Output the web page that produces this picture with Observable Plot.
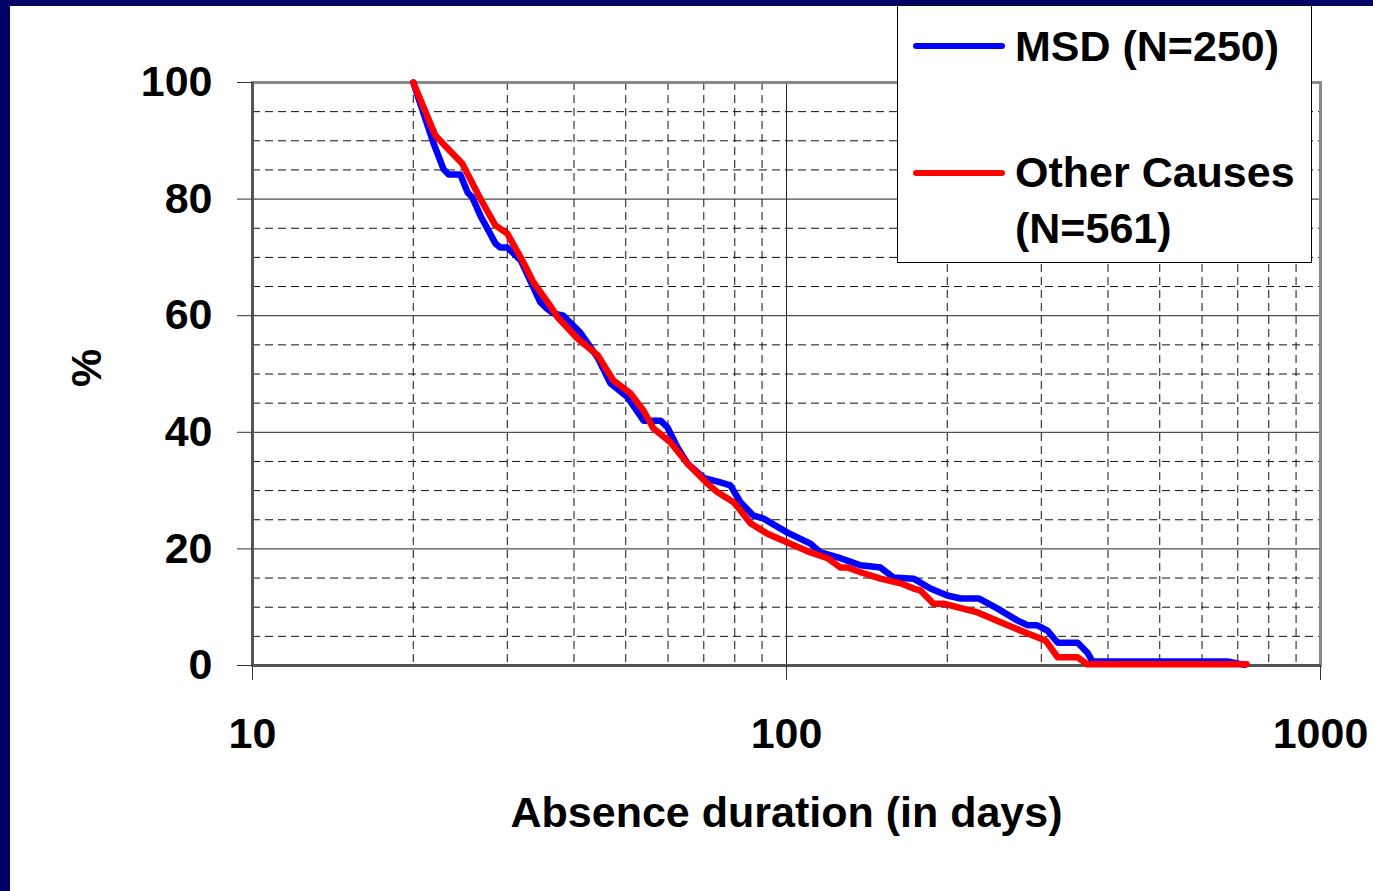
<!DOCTYPE html>
<html>
<head>
<meta charset="utf-8">
<script src="https://cdn.jsdelivr.net/npm/d3@7"></script>
<script src="https://cdn.jsdelivr.net/npm/@observablehq/plot@0.6"></script>
<style>
  html, body { margin: 0; padding: 0; background: #000066; width: 1373px; height: 891px; overflow: hidden; }
  #page { position: absolute; left: 10px; top: 6px; width: 1363px; height: 885px; background: #fff; }
  #legend { position: absolute; left: 887px; top: -1px; width: 413px; height: 256px; background: #fff; border: 1px solid #000;
            font-family: 'Liberation Sans', Arial, sans-serif; font-weight: bold; font-size: 43px; color: #000; }
  .sw { position: absolute; left: 15px; width: 92px; height: 6px; border-radius: 3px; }
  .lt { position: absolute; left: 117px; line-height: 56px; white-space: nowrap; }
</style>
</head>
<body>
<div id="page"></div>
<script>
// ---- data ----
const msdDays = [20, 21.8, 22.8, 23.3, 24.5, 25.3, 25.8, 26.7, 28.5, 29.1, 30.0, 31.8, 34.6, 35.4, 36.6, 38.2, 41.1, 44.3, 46.8, 50.4, 54.0, 58.1, 59.9, 62.5, 65.3, 69.9, 75.2, 78.5, 82.0, 86.7, 90.6, 100.4, 110.9, 115.8, 126.2, 130, 137.6, 150, 158.6, 173, 186, 200, 212, 229, 248, 271, 283, 295, 308, 322, 351, 366, 374, 670, 720];
const msdPct  = [100, 89.7, 85.1, 84.2, 84.2, 81.1, 80.3, 77.2, 72.4, 71.7, 71.7, 69.5, 62.3, 61.4, 60.4, 60.0, 57.1, 52.8, 48.4, 46.0, 42.0, 42.0, 40.8, 37.4, 34.6, 32.2, 31.4, 30.9, 28.0, 25.7, 25.2, 22.8, 20.9, 19.4, 18.4, 18.0, 17.2, 16.8, 15.1, 14.9, 13.2, 12.0, 11.5, 11.5, 9.8, 7.7, 6.9, 6.9, 6.0, 3.9, 3.9, 2.2, 0.7, 0.7, 0.1];
const otherDays = [20, 22.0, 23.2, 24.7, 26.7, 28.5, 30.0, 32.0, 33.6, 36.1, 37.3, 40.6, 44.3, 47.4, 51.0, 54.0, 56.3, 60.6, 65.3, 71.1, 74.3, 79.6, 82.0, 85.6, 92.1, 100.4, 110.9, 119.4, 126.2, 130, 137.6, 150, 163.5, 173, 178, 188.5, 196.8, 228, 255, 283, 305.5, 322, 351, 366, 727];
const otherPct  = [100, 90.9, 88.7, 86.1, 80.1, 75.5, 74.1, 69.5, 65.7, 61.7, 59.7, 56.1, 53.2, 48.9, 46.7, 43.7, 40.7, 38.3, 34.6, 31.2, 29.7, 28.0, 26.6, 24.4, 22.6, 21.1, 19.4, 18.4, 16.8, 16.8, 16.0, 14.9, 14.1, 13.2, 12.9, 10.6, 10.6, 9.1, 7.2, 5.5, 4.3, 1.4, 1.4, 0.2, 0.2];

const seriesNames = ["MSD (N=250)", "Other Causes (N=561)"];
const xTicks = [10, 100, 1000];
const yTicks = [0, 20, 40, 60, 80, 100];
const yMinor = [5, 10, 15, 25, 30, 35, 45, 50, 55, 65, 70, 75, 85, 90, 95];
const xMinor = [20, 30, 40, 50, 60, 70, 80, 90, 200, 300, 400, 500, 600, 700, 800, 900];
const xMajorGrid = [100];
const yMajorGrid = [20, 40, 60, 80];
const xLabel = "Absence duration (in days)";
const yLabel = "%";

const msd = msdDays.map((d, i) => ({d, p: msdPct[i]}));
const other = otherDays.map((d, i) => ({d, p: otherPct[i]}));

const chart = Plot.plot({
  width: 1363,
  height: 885,
  marginLeft: 242,
  marginTop: 76,
  marginRight: 53,
  marginBottom: 226,
  style: {fontFamily: "'Liberation Sans', Arial, sans-serif", fontWeight: "bold", fontSize: "43px", color: "#000", background: "#fff", overflow: "visible"},
  x: {type: "log", domain: [10, 1000]},
  y: {domain: [0, 100]},
  marks: [
    Plot.ruleY(yMinor, {stroke: "#111", strokeWidth: 1, strokeDasharray: "8,5"}),
    Plot.ruleX(xMinor, {stroke: "#111", strokeWidth: 1, strokeDasharray: "8,5"}),
    Plot.ruleY(yMajorGrid, {stroke: "#222", strokeWidth: 1}),
    Plot.ruleX(xMajorGrid, {stroke: "#222", strokeWidth: 1}),
    Plot.frame({stroke: "#888", strokeWidth: 3}),
    Plot.ruleX([10], {stroke: "#555", strokeWidth: 3}),
    Plot.ruleY([0], {stroke: "#555", strokeWidth: 3}),
    Plot.axisY({ticks: yTicks, tickSize: 15, tickPadding: 25, tickFormat: d => d, label: null, stroke: "#333"}),
    Plot.axisX({ticks: xTicks, tickSize: 15, tickPadding: 37, tickFormat: d => String(d), label: null, stroke: "#333"}),
    Plot.text([xLabel], {frameAnchor: "bottom", dy: 148, lineAnchor: "middle", fontSize: 43, fontWeight: "bold"}),
    Plot.text([yLabel], {frameAnchor: "left", dx: -165, dy: 13, rotate: -90, lineAnchor: "middle", fontSize: 43, fontWeight: "bold"}),
    Plot.line(msd, {x: "d", y: "p", stroke: "#0000ff", strokeWidth: 6.5, strokeLinejoin: "round", strokeLinecap: "round"}),
    Plot.line(other, {x: "d", y: "p", stroke: "#ff0000", strokeWidth: 6.5, strokeLinejoin: "round", strokeLinecap: "round"})
  ]
});

const page = document.getElementById("page");
page.appendChild(chart);

const legend = document.createElement("div");
legend.id = "legend";
legend.innerHTML =
  `<div class="sw" style="top:37px;background:#0000ff"></div>` +
  `<div class="lt" style="top:12px">${seriesNames[0]}</div>` +
  `<div class="sw" style="top:164px;background:#ff0000"></div>` +
  `<div class="lt" style="top:138px">Other Causes<br>(N=561)</div>`;
page.appendChild(legend);
</script>
</body>
</html>
